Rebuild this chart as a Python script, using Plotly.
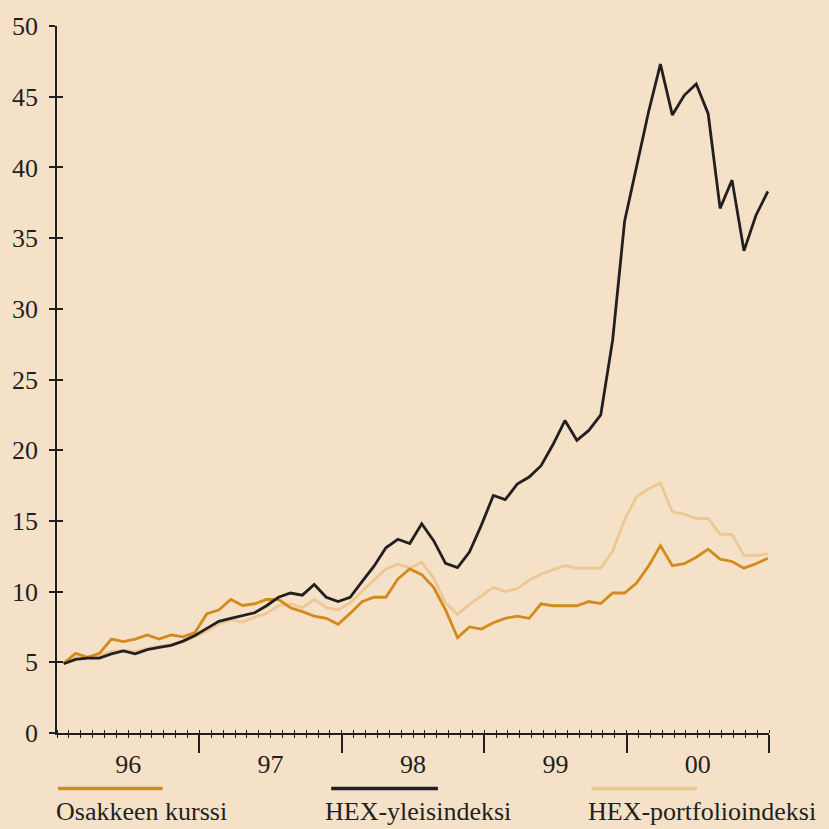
import numpy as np
import plotly.graph_objects as go

# ---- data (monthly, Jan 1996 .. Dec 2000) ----
years = ["96", "97", "98", "99", "00"]
months = np.arange(60)

osakkeen_kurssi = [4.93, 5.63, 5.35, 5.63, 6.64, 6.47, 6.64, 6.94, 6.64, 6.94, 6.8, 7.1,
                   8.44, 8.7, 9.44, 9.02, 9.14, 9.44, 9.44, 8.86, 8.58, 8.27, 8.11, 7.69,
                   8.46, 9.28, 9.6, 9.6, 10.9, 11.6, 11.2, 10.3, 8.7, 6.75, 7.5, 7.35,
                   7.8, 8.11, 8.27, 8.11, 9.14, 9.0, 9.0, 9.0, 9.3, 9.15, 9.9, 9.9,
                   10.6, 11.8, 13.25, 11.83, 11.97, 12.43, 13.0, 12.3, 12.13, 11.66, 11.97, 12.36]

hex_yleis = [4.9, 5.2, 5.3, 5.3, 5.6, 5.8, 5.6, 5.9, 6.05, 6.2, 6.5, 6.9,
             7.4, 7.9, 8.1, 8.3, 8.5, 9.0, 9.6, 9.9, 9.75, 10.5, 9.6, 9.3,
             9.6, 10.7, 11.8, 13.1, 13.7, 13.4, 14.8, 13.6, 12.0, 11.7, 12.8, 14.7,
             16.8, 16.5, 17.6, 18.1, 18.9, 20.4, 22.1, 20.7, 21.4, 22.5, 27.8, 36.2,
             39.95, 43.9, 47.3, 43.7, 45.1, 45.9, 43.8, 37.1, 39.1, 34.1, 36.6, 38.3]

hex_portfolio = [4.9, 5.35, 5.3, 5.5, 5.75, 5.85, 5.75, 6.0, 6.1, 6.25, 6.45, 6.8,
                 7.2, 7.7, 8.0, 7.85, 8.2, 8.45, 9.0, 9.15, 8.86, 9.44, 8.86, 8.7,
                 9.2, 10.0, 10.8, 11.6, 11.94, 11.66, 12.08, 10.96, 9.2, 8.39, 9.1, 9.7,
                 10.3, 10.0, 10.2, 10.8, 11.24, 11.55, 11.83, 11.66, 11.66, 11.66, 12.85, 15.1,
                 16.7, 17.27, 17.67, 15.64, 15.48, 15.17, 15.17, 14.05, 14.05, 12.55, 12.55, 12.67]

names = ["Osakkeen kurssi", "HEX-yleisindeksi", "HEX-portfolioindeksi"]

# ---- styles ----
BG = "#F5E1C7"
C_OR = "#D38A1C"
C_BK = "#231F20"
C_LT = "#EDC894"
FONT = "Liberation Serif"
FS = 26

x = 0.56 + months * 1.0058

fig = go.Figure()
fig.add_trace(go.Scatter(x=x, y=hex_portfolio, mode="lines",
                         line=dict(color=C_LT, width=2.8), xaxis="x", yaxis="y"))
fig.add_trace(go.Scatter(x=x, y=osakkeen_kurssi, mode="lines",
                         line=dict(color=C_OR, width=2.8), xaxis="x", yaxis="y"))
fig.add_trace(go.Scatter(x=x, y=hex_yleis, mode="lines",
                         line=dict(color=C_BK, width=2.8), xaxis="x", yaxis="y"))

L, R, T, B = 55, 60, 20, 96
W = H = 829
pw, ph = W - L - R, H - T - B

def px2paper(px, py):
    return (px - L) / pw, (H - B - py) / ph

shapes = []
annotations = []
legend_spec = [(C_OR, 56, 161, 52), (C_BK, 330, 437, 322), (C_LT, 591, 697, 585)]
for (col, x0, x1, tx), nm in zip(legend_spec, names):
    a0, ly = px2paper(x0, 789)
    a1, _ = px2paper(x1, 789)
    shapes.append(dict(type="line", xref="paper", yref="paper", x0=a0, x1=a1, y0=ly, y1=ly,
                       line=dict(color=col, width=3.5)))
    tx_p, ty_p = px2paper(tx, 812)
    annotations.append(dict(xref="paper", yref="paper", x=tx_p, y=ty_p, text=nm,
                            showarrow=False, xanchor="left", yanchor="middle",
                            font=dict(family=FONT, size=FS, color=C_BK)))

year_bounds = [12, 24, 36, 48, 60]
year_mids = [6, 18, 30, 42, 54]

fig.update_layout(
    width=W, height=H,
    margin=dict(l=L, r=R, t=T, b=B),
    paper_bgcolor=BG, plot_bgcolor=BG,
    showlegend=False,
    font=dict(family=FONT, size=FS, color=C_BK),
    shapes=shapes, annotations=annotations,
    xaxis=dict(range=[0, 60], showgrid=False, zeroline=False,
               showline=True, linecolor=C_BK, linewidth=1.5,
               tickvals=year_bounds, ticks="outside", ticklen=18, tickwidth=1.5,
               tickcolor=C_BK, showticklabels=False,
               minor=dict(dtick=1, tick0=0, ticks="outside", ticklen=3,
                          tickwidth=1.2, tickcolor=C_BK, showgrid=False)),
    xaxis2=dict(range=[0, 60], overlaying="x", anchor="y", side="bottom",
                showgrid=False, zeroline=False, showline=False,
                tickvals=year_mids, ticktext=years, ticks="outside", ticklen=8,
                tickcolor="rgba(0,0,0,0)",
                tickfont=dict(family=FONT, size=FS, color=C_BK),
                minor=dict(dtick=1, tick0=0, ticks="inside", ticklen=3,
                           tickwidth=1.2, tickcolor=C_BK, showgrid=False)),
    yaxis=dict(range=[0, 50], showgrid=False, zeroline=False,
               showline=True, linecolor=C_BK, linewidth=1.5,
               tickvals=[0, 5, 10, 15, 20, 25, 30, 35, 40, 45, 50],
               ticks="outside", ticklen=6, tickwidth=1.5, tickcolor=C_BK,
               ticklabelstandoff=6,
               tickfont=dict(family=FONT, size=FS, color=C_BK)),
    yaxis2=dict(range=[0, 50], overlaying="y", anchor="x", side="left",
                showgrid=False, zeroline=False, showline=False,
                tickvals=[0, 5, 10, 15, 20, 25, 30, 35, 40, 45, 50],
                ticks="inside", ticklen=6, tickwidth=1.5, tickcolor=C_BK,
                showticklabels=False),
)
# invisible trace to activate the overlay axes
fig.add_trace(go.Scatter(x=[None], y=[None], xaxis="x2", yaxis="y2", showlegend=False,
                         hoverinfo="skip"))

fig.write_html("out.html", config={"displayModeBar": False},
               post_script="document.body.style.margin='0';document.body.style.overflow='hidden';")
